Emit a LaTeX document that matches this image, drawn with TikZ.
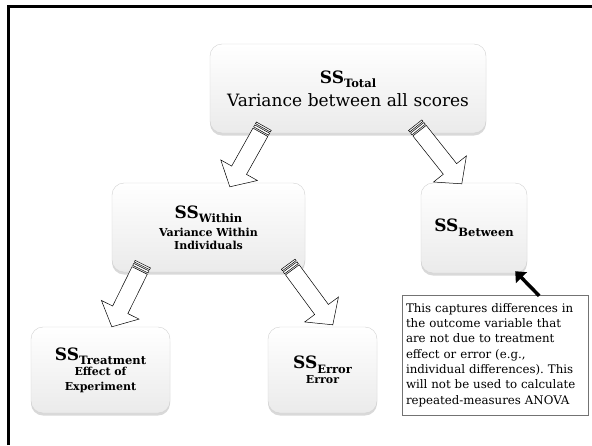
\documentclass[tikz,border=0pt]{standalone}
\usepackage{fontspec}
\setmainfont{DejaVu Serif}
\usepackage{tikz}
\usetikzlibrary{calc,positioning,shadows,arrows.meta}
\frenchspacing

\newcommand{\SSmit}[1]{{\fontsize{17}{20}\selectfont\bfseries SS}\raisebox{-4.5pt}{\fontsize{11.5}{13}\selectfont\bfseries #1}}

\begin{document}
\begin{tikzpicture}[x=1pt,y=-1pt,
  kasten/.style={rectangle,rounded corners=12pt,draw=black!18,top color=white,bottom color=black!8,
    drop shadow={opacity=0.3,shadow xshift=0pt,shadow yshift=-2.5pt},align=center,inner sep=2pt},
  notiz/.style={rectangle,draw=black!55,fill=white,align=left,text width=178pt,inner sep=4pt,
    minimum height=120pt,font=\fontsize{11.8}{15.3}\selectfont},
  pfeil/.style={draw=black,fill=white,line width=0.5pt,line join=miter},
  zeiger/.style={line width=3.5pt,-{Triangle[length=9pt,width=15pt]}}]
\useasboundingbox (0,0) rectangle (592,445);
%Rahmen nur oben und links
\draw[line width=2.5pt] (8.7,445) -- (8.7,6.3) -- (592,6.3);
%Kaesten
\node[kasten,minimum width=276pt,minimum height=89pt,text width=270pt,font=\fontsize{17}{23}\selectfont] (total) at (348,88.5)
  {\SSmit{Total}\\ Variance between all scores};
\node[kasten,minimum width=193pt,minimum height=89pt,text width=187pt,font=\fontsize{11}{13}\selectfont\bfseries] (within) at (208.5,227.5)
  {\SSmit{Within}\\[4pt] Variance Within\\ Individuals};
\node[kasten,minimum width=106pt,minimum height=90pt,text width=100pt] (between) at (474,228)
  {\SSmit{Between}};
\node[kasten,minimum width=139pt,minimum height=86pt,text width=133pt,font=\fontsize{11}{15}\selectfont\bfseries] (treatment) at (100.5,370)
  {\SSmit{Treatment}\\ Effect of\\ Experiment};
\node[kasten,minimum width=109pt,minimum height=86pt,text width=103pt,font=\fontsize{11}{15}\selectfont\bfseries] (error) at (322.5,370)
  {\SSmit{Error}\\ Error};
\node[notiz] (note) at (495,355) {This captures differences in\\ the outcome variable that\\ are not due to treatment\\ effect or error (e.g.,\\ individual differences). This\\ will not be used to calculate\\ repeated-measures ANOVA};
%Anfang und Spitze der Streifenpfeile
\coordinate (t1) at ($(total.south west)+(54,-7)$);
\coordinate (p1) at ($(within.north west)+(118,4)$);
\coordinate (t2) at ($(total.south east)+(-71,-8)$);
\coordinate (p2) at ($(between.north west)+(41,1)$);
\coordinate (t3) at ($(within.south west)+(31,-8)$);
\coordinate (p3) at ($(treatment.north west)+(81,0)$);
\coordinate (t4) at ($(within.south east)+(-17,-8)$);
\coordinate (p4) at ($(error.north west)+(65,-2)$);
\foreach \von/\nach in {t1/p1,t2/p2,t3/p3,t4/p4}{
  \coordinate (kopf) at ($(\nach)!19pt!(\von)$);
  \coordinate (rumpf) at ($(\von)!7pt!(\nach)$);
  \coordinate (st1) at ($(\von)!1.8pt!(\nach)$);
  \coordinate (st2) at ($(\von)!3.3pt!(\nach)$);
  \coordinate (st3) at ($(\von)!5.5pt!(\nach)$);
  \filldraw[pfeil] ($(rumpf)!8.5pt!90:(\nach)$) -- ($(kopf)!8.5pt!90:(\nach)$) -- ($(kopf)!21pt!90:(\nach)$) -- (\nach)
    -- ($(kopf)!21pt!-90:(\nach)$) -- ($(kopf)!8.5pt!-90:(\nach)$) -- ($(rumpf)!8.5pt!-90:(\nach)$) -- cycle;
  \filldraw[pfeil] ($(\von)!8.5pt!90:(\nach)$) -- ($(st1)!8.5pt!90:(\nach)$) -- ($(st1)!8.5pt!-90:(\nach)$) -- ($(\von)!8.5pt!-90:(\nach)$) -- cycle;
  \filldraw[pfeil] ($(st2)!8.5pt!90:(\nach)$) -- ($(st3)!8.5pt!90:(\nach)$) -- ($(st3)!8.5pt!-90:(\nach)$) -- ($(st2)!8.5pt!-90:(\nach)$) -- cycle;
}
\draw[zeiger] ($(note.north east)+(-49,1)$) -- ($(between.south east)+(-12,-2)$);
\end{tikzpicture}
\end{document}
